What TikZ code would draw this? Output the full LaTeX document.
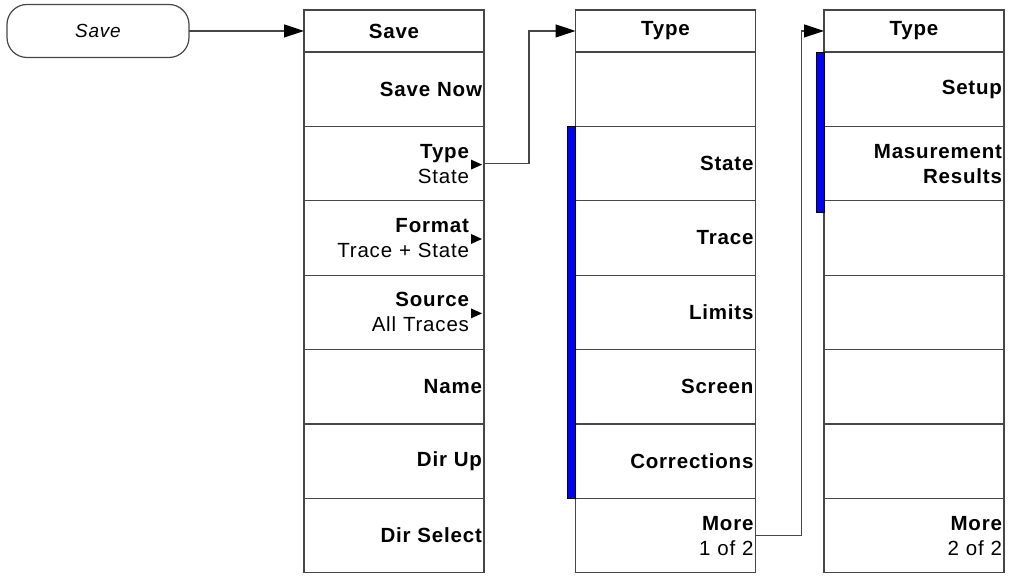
\documentclass[tikz,border=0pt]{standalone}
\usepackage{fontspec}
\setmainfont{Liberation Sans}[LetterSpace=4]
\usepackage{tikz}
\usetikzlibrary{arrows.meta,positioning}
\definecolor{mnedge}{RGB}{70,70,70}
\definecolor{mnink}{RGB}{0,0,0}
\definecolor{mnsel}{RGB}{0,0,255}
\tikzset{
  mnbox/.style={
    draw=mnedge, line width=1.2pt, outer sep=0pt, inner ysep=2pt,
    minimum width=180pt, font=\fontsize{20.5}{25}\selectfont\bfseries
  },
  hdr/.style={mnbox, minimum height=42pt, text width=176pt, inner xsep=2pt, align=center},
  key/.style={mnbox, minimum height=74.4pt, text width=176pt, inner xsep=2pt, align=right},
  subkey/.style={key, text width=150pt, inner xsep=15pt},
  softkey/.style={
    draw=mnedge, line width=1.2pt, rounded corners=20pt, outer sep=0pt,
    minimum width=182pt, minimum height=53pt,
    font=\fontsize{19}{23}\selectfont\itshape
  },
  selbar/.style={
    draw=mnink, fill=mnsel, line width=0.6pt, minimum width=8pt,
    inner sep=0pt, outer sep=0pt, anchor=north east
  },
  arr/.style={-{Triangle[length=20pt,width=13pt,color=mnink]}, draw=mnedge, line width=1.2pt},
  every picture/.append style={line join=miter}
}

\begin{document}
\begin{tikzpicture}[x=1pt, y=1pt]
  \useasboundingbox (0,0) rectangle (1009,577);
  \node[softkey] (savekey) at (98,546) {Save};

  \node[hdr] (s0) at (394,546) {Save};
  \node[key, below=0pt of s0] (s1) {Save Now};
  \node[subkey, below=0pt of s1] (s2) {Type\\\mdseries State};
  \node[subkey, below=0pt of s2] (s3) {Format\\\mdseries Trace + State};
  \node[subkey, below=0pt of s3] (s4) {Source\\\mdseries All Traces};
  \node[key, below=0pt of s4] (s5) {Name};
  \node[key, below=0pt of s5] (s6) {Dir Up};
  \node[key, below=0pt of s6] (s7) {Dir Select};

  \node[hdr] (t0) at (665.5,546) {Type};
  \node[key, below=0pt of t0] (t1) {};
  \node[key, below=0pt of t1] (t2) {State};
  \node[key, below=0pt of t2] (t3) {Trace};
  \node[key, below=0pt of t3] (t4) {Limits};
  \node[key, below=0pt of t4] (t5) {Screen};
  \node[key, below=0pt of t5] (t6) {Corrections};
  \node[key, below=0pt of t6] (t7) {More\\\mdseries 1 of 2};
  \node[selbar, minimum height=372.2pt] (bar2) at (t2.north west) {};

  \node[hdr] (u0) at (914,546) {Type};
  \node[key, below=0pt of u0] (u1) {Setup};
  \node[key, below=0pt of u1] (u2) {Masurement\\Results};
  \node[key, below=0pt of u2] (u3) {};
  \node[key, below=0pt of u3] (u4) {};
  \node[key, below=0pt of u4] (u5) {};
  \node[key, below=0pt of u5] (u6) {};
  \node[key, below=0pt of u6] (u7) {More\\\mdseries 2 of 2};
  \node[selbar, minimum height=160pt] (bar3) at (u1.north west) {};

  \foreach \k in {s2,s3,s4}
    \fill[mnink] ([xshift=-2pt,yshift=-1pt]\k.east) -- ++(-11pt,5pt) -- ++(0,-10pt) -- cycle;

  \draw[arr] (savekey.east) -- (s0.west);
  \draw[arr] (s2.east) -- ++(45pt,0) |- (t0.west);
  \draw[arr] (t7.east) -- ++(46pt,0) |- (u0.west);
\end{tikzpicture}
\end{document}
